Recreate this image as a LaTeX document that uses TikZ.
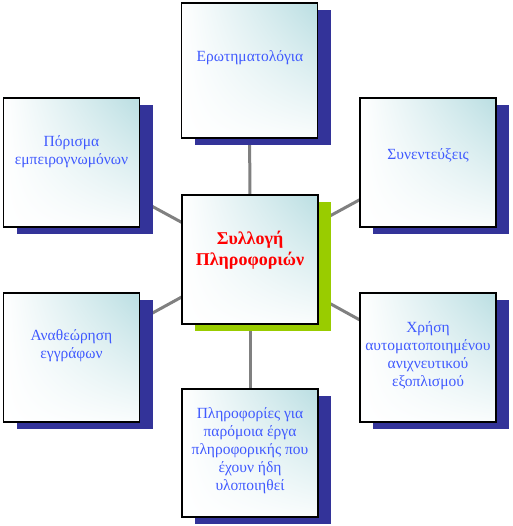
\documentclass[tikz,border=0pt]{standalone}
\usepackage{fontspec}
\setmainfont{Liberation Serif}
\usetikzlibrary{shadows,backgrounds,calc,shadings}
\definecolor{navy}{RGB}{51,51,153}
\definecolor{lime}{RGB}{153,204,0}
\definecolor{tint}{RGB}{186,222,226}
\definecolor{txtblue}{RGB}{64,90,255}
\definecolor{linegray}{RGB}{128,128,128}
\begin{document}
\begin{tikzpicture}[x=1pt,y=-1pt,
  box/.style={draw=black, line width=1.2pt, minimum width=136pt, minimum height=129pt,
    inner sep=0pt, outer sep=0pt, fill=white,
    rectangle, path picture={
      \shade[upper right=tint, upper left=white, lower left=white, lower right=white!92!tint]
        (path picture bounding box.south west) rectangle (path picture bounding box.north east);}},
  navyshadow/.style={drop shadow={shadow xshift=13pt, shadow yshift=-7pt, fill=navy, opacity=1}},
  limeshadow/.style={drop shadow={shadow xshift=13pt, shadow yshift=-7pt, fill=lime, opacity=1}},
  txt/.style={text=txtblue, font=\fontsize{15.5}{18}\selectfont, align=center, inner sep=0pt},
  ctxt/.style={text=red, font=\fontsize{18}{21}\selectfont\bfseries, align=center, inner sep=0pt},
  conn/.style={draw=linegray, line width=3pt}]
\useasboundingbox (0,0) rectangle (512,526);
\node[box,limeshadow] (c) at (250,259.5) {};
\node[box,navyshadow, minimum height=135pt] (t) at (249.5,70.5) {};
\node[box,navyshadow] (lu) at (71.5,162.5) {};
\node[box,navyshadow] (ru) at (428,162.5) {};
\node[box,navyshadow] (ll) at (71.5,357.5) {};
\node[box,navyshadow] (rl) at (428,357.5) {};
\node[box,navyshadow, minimum height=128pt] (b) at (250,453) {};
\begin{scope}[on background layer]
\foreach \n in {t,lu,ru,ll,rl,b} \draw[conn] (c.center) -- (\n.center);
\end{scope}
\node[ctxt] (ct) at (250,250) {Συλλογή\\Πληροφοριών};
\node[txt] (tt) at (250,58) {Ερωτηματολόγια};
\node[txt] (lut) at (71.5,152) {Πόρισμα\\εμπειρογνωμόνων};
\node[txt] (rut) at (428,155) {Συνεντεύξεις};
\node[txt] (llt) at (71.5,346) {Αναθεώρηση\\εγγράφων};
\node[txt] (rlt) at (428,356) {Χρήση\\αυτοματοποιημένου\\ανιχνευτικού\\εξοπλισμού};
\node[txt] (bt) at (250,451) {Πληροφορίες για\\παρόμοια έργα\\πληροφορικής που\\έχουν ήδη\\υλοποιηθεί};
\end{tikzpicture}
\end{document}
